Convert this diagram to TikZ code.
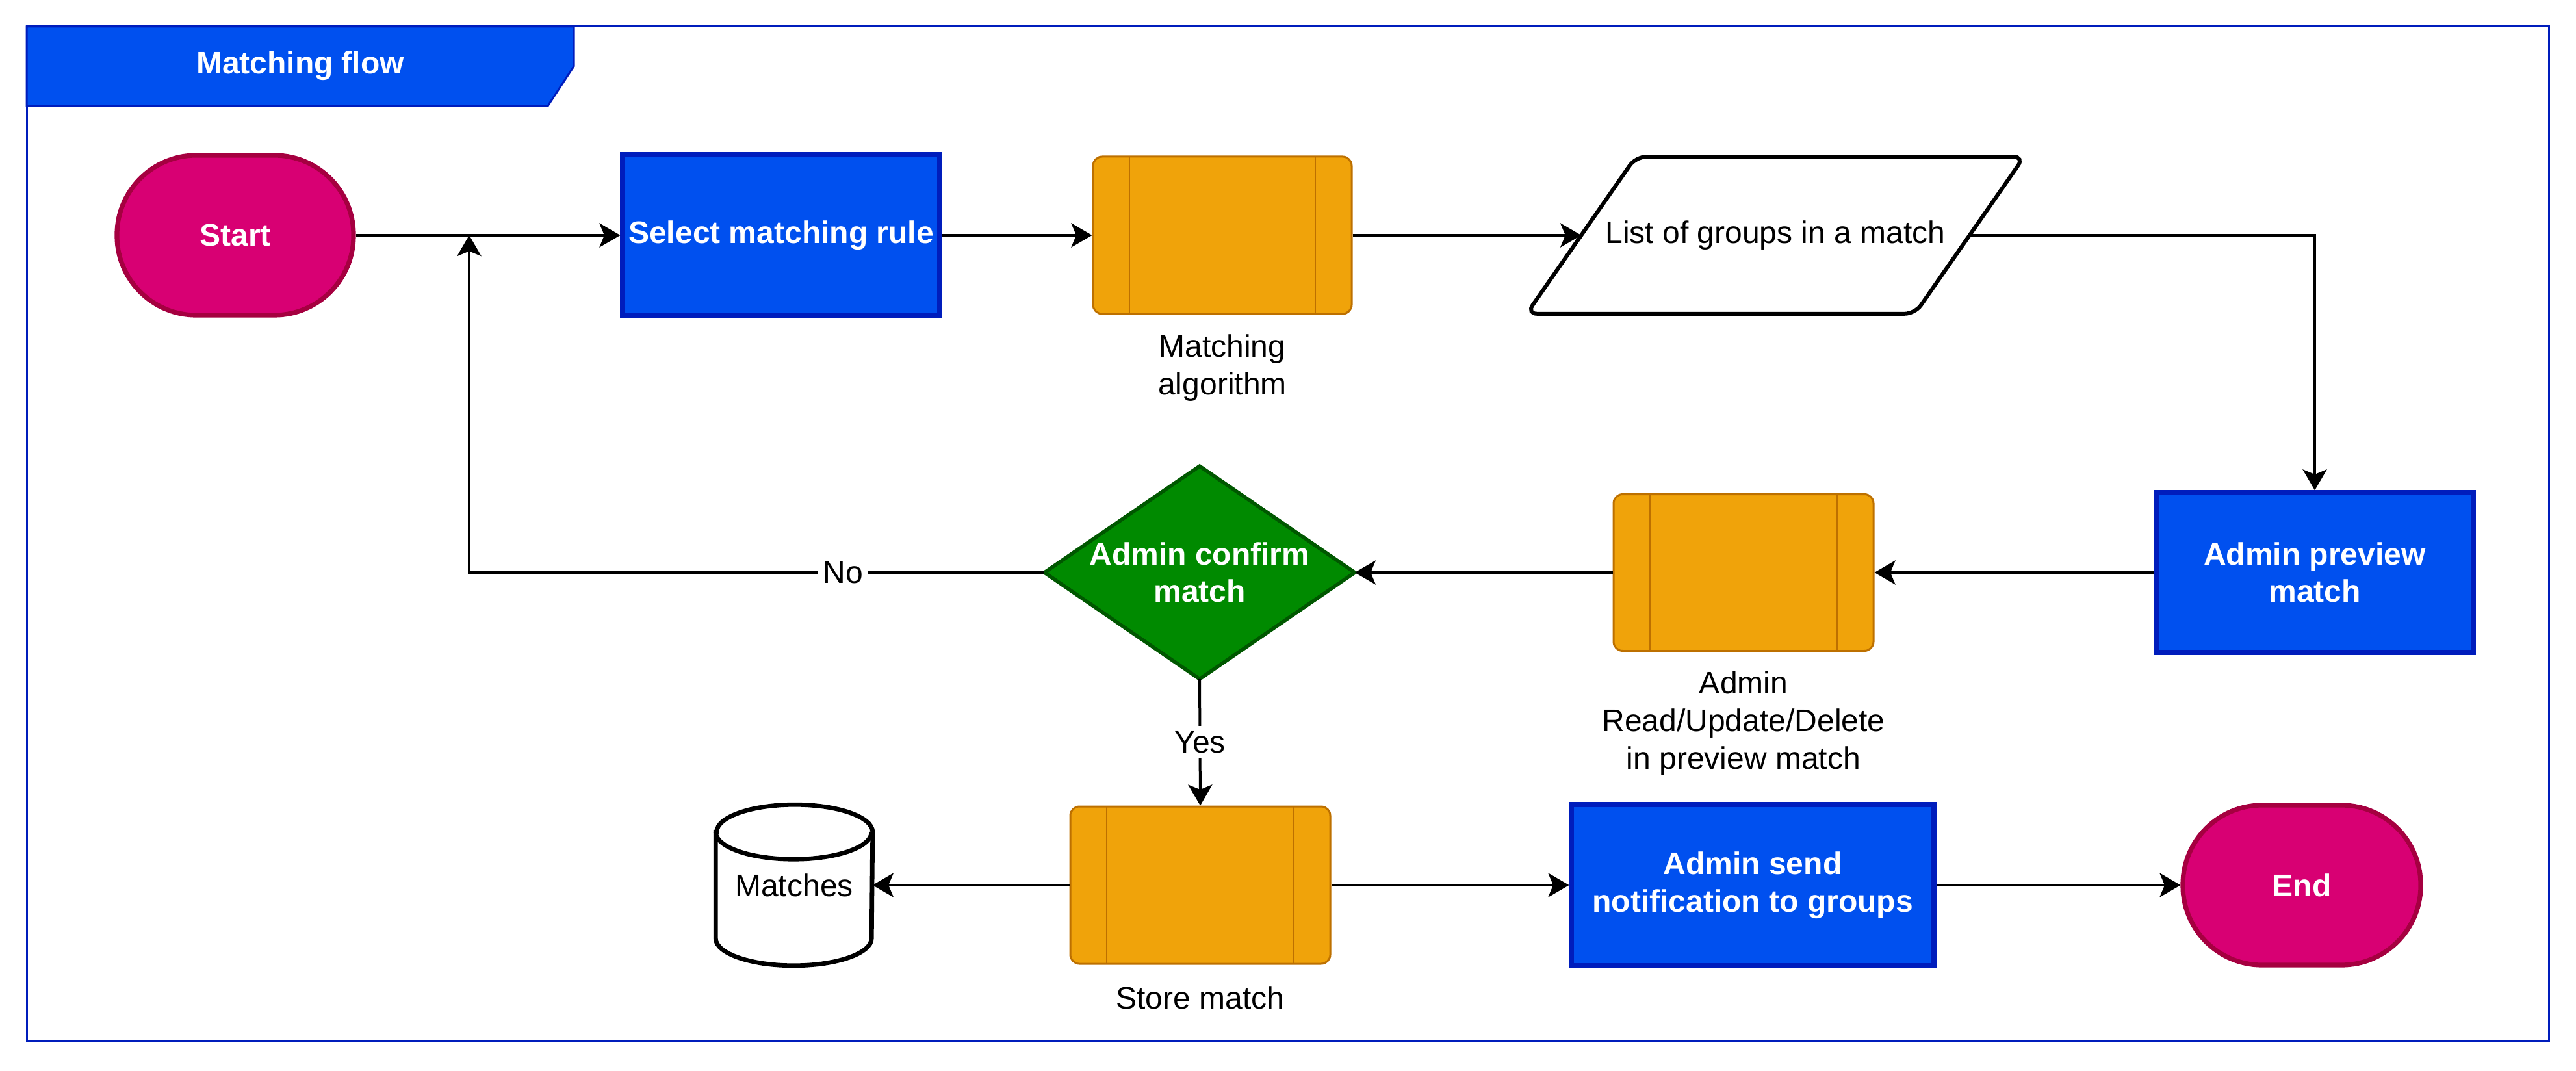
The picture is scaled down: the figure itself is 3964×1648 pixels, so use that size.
\documentclass[tikz,border=0pt]{standalone}
\usepackage{fontspec}
\setmainfont{Liberation Sans}
\usetikzlibrary{arrows.meta,calc}
\definecolor{blueF}{HTML}{0050EF}
\definecolor{blueS}{HTML}{001DBC}
\definecolor{pinkF}{HTML}{D80073}
\definecolor{pinkS}{HTML}{A50040}
\definecolor{orangeF}{HTML}{F0A30A}
\definecolor{orangeS}{HTML}{BD7000}
\definecolor{greenF}{HTML}{008A00}
\definecolor{greenS}{HTML}{005700}
\pgfdeclarelayer{bg}
\pgfsetlayers{bg,main}
\begin{document}
\begin{tikzpicture}[x=0.25pt,y=-0.25pt,
  every node/.style={font=\fontsize{12}{14.4}\selectfont, inner sep=0pt, align=center},
  boldwhite/.style={text=white, font=\fontsize{12}{14.4}\selectfont\bfseries},
  bluebox/.style={boldwhite, draw=blueS, fill=blueF, line width=1.8pt, minimum height=61.5pt},
  terminal/.style={boldwhite, draw=pinkS, fill=pinkF, line width=1.8pt, rounded corners=30.5pt, minimum width=91pt, minimum height=61.5pt},
  proc/.style={draw=orangeS, fill=orangeF, line width=0.75pt, rounded corners=3.5pt, minimum width=100pt, minimum height=60.5pt,
    path picture={\draw[orangeS, line width=0.6pt]
      ([xshift=14pt]path picture bounding box.north west) -- ([xshift=14pt]path picture bounding box.south west)
      ([xshift=-14pt]path picture bounding box.north east) -- ([xshift=-14pt]path picture bounding box.south east);}},
  holder/.style={draw=none, rectangle},
  flow/.style={draw=black, line width=1pt, -{Stealth[length=8pt, width=9.25pt, inset=1.9pt]}},
  lbl/.style={fill=white, inner sep=2pt, text=black},
  caption/.style={text=black}
]
\useasboundingbox (0,0) rectangle (3964,1648);

% container
\draw[blueS, line width=0.75pt] (41,41) rectangle (3922,1602);
\draw[draw=blueS, fill=blueF, line width=0.75pt] (41,41) -- (883,41) -- (883,102) -- (843,163) -- (41,163) -- cycle;
\node[boldwhite] (title) at (462,101) {Matching flow};

% row 1
\node[terminal] (start) at (362,362) {Start};
\node[bluebox, minimum width=122pt, minimum height=62pt] (select) at (1202,362) {Select matching rule};
\node[proc, minimum width=99.5pt] (algo) at (1881,362) {};
\node[caption] (algolbl) at (1881,566) {Matching\\algorithm};
\node[holder, minimum width=149pt, minimum height=60pt] (list) at (2732,362) {List of groups in a match};
\begin{pgfonlayer}{bg}
  \draw[draw=black, fill=white, line width=1.5pt, rounded corners=4pt]
    ($(list.north west)+(84,0)$) -- ($(list.north east)+(84,0)$) --
    ($(list.south east)+(-84,0)$) -- ($(list.south west)+(-84,0)$) -- cycle;
\end{pgfonlayer}

% row 2
\node[bluebox, minimum width=122pt] (preview) at (3562,881) {Admin preview\\match};
\node[proc, minimum height=60.25pt] (rud) at (2683,881) {};
\node[caption] (rudlbl) at (2683,1113) {Admin\\Read/Update/Delete\\in preview match};
\node[holder, boldwhite, minimum width=119pt, minimum height=81.5pt] (dec) at (1846,881) {Admin confirm\\match};
\begin{pgfonlayer}{bg}
  \draw[draw=greenS, fill=greenF, line width=1.4pt, line join=miter]
    (dec.north) -- (dec.east) -- (dec.south) -- (dec.west) -- cycle;
\end{pgfonlayer}

% row 3
\node[holder, minimum width=60pt, minimum height=61.5pt] (db) at (1222,1362) {Matches};
\begin{pgfonlayer}{bg}
  \draw[draw=black, fill=white, line width=1.7pt]
    ($(db.north west)+(0,42)$) -- ($(db.south west)+(0,-42)$)
    arc[start angle=180, end angle=360, x radius=30pt, y radius=10.5pt]
    -- ($(db.north east)+(0,42)$)
    arc[start angle=0, end angle=180, x radius=30pt, y radius=10.5pt] -- cycle;
  \draw[draw=black, line width=1.7pt] ($(db.north west)+(0,42)$)
    arc[start angle=180, end angle=360, x radius=30pt, y radius=10.5pt];
\end{pgfonlayer}
\node[proc] (store) at (1847,1362) {};
\node[caption] (storelbl) at (1847,1535) {Store match};
\node[bluebox, minimum width=139.5pt, minimum height=62pt] (notify) at (2697,1362) {Admin send\\notification to groups};
\node[terminal, minimum width=91.5pt] (end) at (3542,1362) {End};

% connectors
\coordinate (junc) at (722,362);
\draw[flow] (start) -- (select);
\draw[flow] (select) -- (algo);
\draw[flow] (algo) -- (list.west);
\draw[flow] (list.east) -| (preview.north);
\draw[flow] (preview) -- (rud);
\draw[flow] (rud) -- (dec.east);
\draw[flow] (dec.south) -- node[lbl] (yes) {Yes} (store.north);
\draw[flow] (dec.west) -| node[lbl, pos=0.175] (no) {No} (junc);
\draw[flow] (store) -- (db.east);
\draw[flow] (store) -- (notify);
\draw[flow] (notify) -- (end);
\end{tikzpicture}
\end{document}
